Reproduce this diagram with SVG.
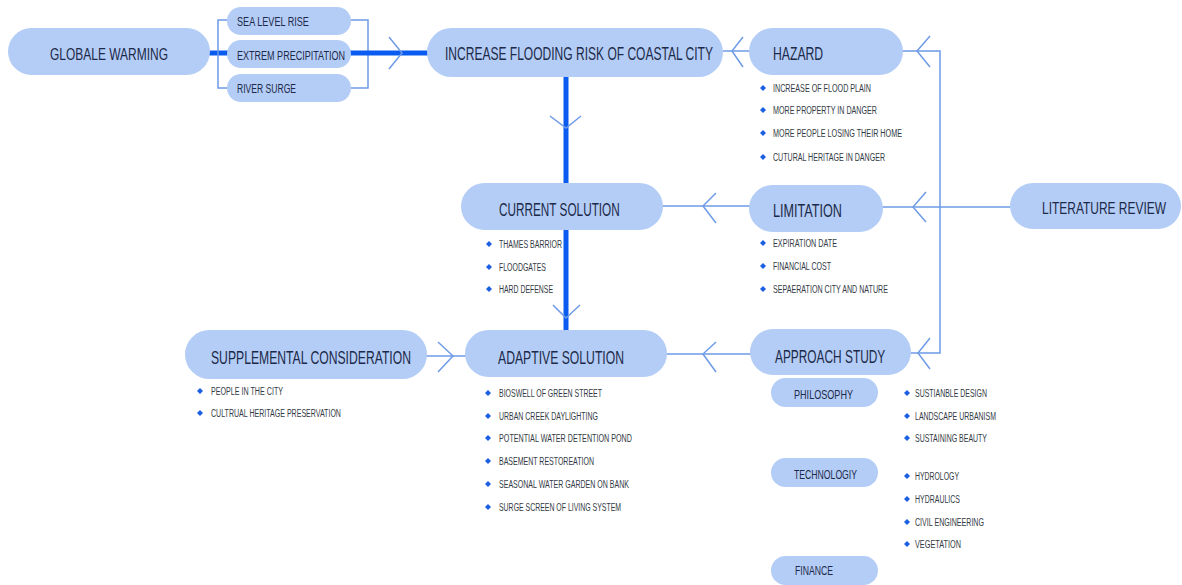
<svg xmlns="http://www.w3.org/2000/svg" width="1182" height="585" viewBox="0 0 1182 585">
<style>
.pill{fill:#b4cdf7}
.h{font-family:"Liberation Sans",Arial,sans-serif;fill:#1c2a48}
.h1{font-size:18px}
.h2{font-size:16px}
.h3{font-size:13.5px}
.b{font-family:"Liberation Sans",Arial,sans-serif;font-size:11px;fill:#333a44}
.thick{stroke:#0a5cf0;stroke-width:5;fill:none}
.thin{stroke:#6e9be6;stroke-width:1.5;fill:none}
.dot{fill:#1b5fe3}
</style>
<defs>
<path id="d" class="dot" d="M0,-3 L3,0 L0,3 L-3,0 Z"/>
</defs>
<rect width="1182" height="585" fill="#ffffff"/>
<g id="connectors">
<line class="thick" x1="208" y1="53" x2="228" y2="53"/>
<polyline class="thin" points="228,20 218,20 218,88 228,88"/>
<polyline class="thin" points="351,20 368,20 368,88 351,88"/>
<line class="thick" x1="349" y1="53" x2="428" y2="53"/>
<polyline class="thin" points="389,37 402,53 389,69"/>
<line class="thin" x1="723" y1="51" x2="750" y2="51"/>
<polyline class="thin" points="743,37 732,51 743,67"/>
<polyline class="thin" points="902,51 940,51 940,353 910,353"/>
<polyline class="thin" points="930,36 917,51 930,67"/>
<polyline class="thin" points="930,338 918,353 930,369"/>
<line class="thin" x1="882" y1="207" x2="1012" y2="207"/>
<polyline class="thin" points="926,192 913,207 926,222"/>
<line class="thin" x1="662" y1="206" x2="750" y2="206"/>
<polyline class="thin" points="716,193 703,206 716,223"/>
<line class="thin" x1="666" y1="354" x2="751" y2="354"/>
<polyline class="thin" points="716,342 703,354 716,372"/>
<line class="thin" x1="426" y1="356" x2="466" y2="356"/>
<polyline class="thin" points="438,342 453,356 438,372"/>
<line class="thick" x1="566" y1="75" x2="566" y2="332"/>
<polyline class="thin" points="550,116 566,128 581,116"/>
<polyline class="thin" points="553,305 566,318 580,305"/>
</g>
<g id="globale-warming">
<rect class="pill" x="8" y="28" width="202" height="47" rx="23.5"/>
<text class="h h2" transform="translate(50,60) scale(0.74,1)" textLength="159.5" lengthAdjust="spacingAndGlyphs">GLOBALE WARMING</text>
</g>
<g id="sea-level-rise">
<rect class="pill" x="227" y="7" width="124" height="28" rx="14"/>
<text class="h h3" transform="translate(237,26) scale(0.66,1)" textLength="109" lengthAdjust="spacingAndGlyphs">SEA LEVEL RISE</text>
</g>
<g id="extrem-precipitation">
<rect class="pill" x="227" y="40" width="124" height="28" rx="14"/>
<text class="h h3" transform="translate(237,60) scale(0.66,1)" textLength="163.6" lengthAdjust="spacingAndGlyphs">EXTREM PRECIPITATION</text>
</g>
<g id="river-surge">
<rect class="pill" x="227" y="74" width="124" height="28" rx="14"/>
<text class="h h3" transform="translate(237,93) scale(0.66,1)" textLength="89.4" lengthAdjust="spacingAndGlyphs">RIVER SURGE</text>
</g>
<g id="increase-flooding">
<rect class="pill" x="427" y="28" width="296" height="49" rx="24.5"/>
<text class="h h1" transform="translate(445,60) scale(0.66,1)" textLength="406" lengthAdjust="spacingAndGlyphs">INCREASE FLOODING RISK OF COASTAL CITY</text>
</g>
<g id="hazard">
<rect class="pill" x="749" y="28" width="154" height="47" rx="23.5"/>
<text class="h h1" transform="translate(773,60) scale(0.66,1)" textLength="76" lengthAdjust="spacingAndGlyphs">HAZARD</text>
<use href="#d" x="763" y="88"/><text class="b" transform="translate(773,92) scale(0.63,1)" textLength="155.6" lengthAdjust="spacingAndGlyphs">INCREASE OF FLOOD PLAIN</text>
<use href="#d" x="763" y="110"/><text class="b" transform="translate(773,114) scale(0.63,1)" textLength="165" lengthAdjust="spacingAndGlyphs">MORE PROPERTY IN DANGER</text>
<use href="#d" x="763" y="133"/><text class="b" transform="translate(773,137) scale(0.63,1)" textLength="204.8" lengthAdjust="spacingAndGlyphs">MORE PEOPLE LOSING THEIR HOME</text>
<use href="#d" x="763" y="157"/><text class="b" transform="translate(773,161) scale(0.63,1)" textLength="177.8" lengthAdjust="spacingAndGlyphs">CUTURAL HERITAGE IN DANGER</text>
</g>
<g id="current-solution">
<rect class="pill" x="461" y="183" width="202" height="47" rx="23.5"/>
<text class="h h1" transform="translate(499,216) scale(0.66,1)" textLength="183" lengthAdjust="spacingAndGlyphs">CURRENT SOLUTION</text>
<use href="#d" x="489" y="244"/><text class="b" transform="translate(499,248) scale(0.63,1)" textLength="100" lengthAdjust="spacingAndGlyphs">THAMES BARRIOR</text>
<use href="#d" x="489" y="267"/><text class="b" transform="translate(499,271) scale(0.63,1)" textLength="74.6" lengthAdjust="spacingAndGlyphs">FLOODGATES</text>
<use href="#d" x="489" y="289"/><text class="b" transform="translate(499,293) scale(0.63,1)" textLength="85.7" lengthAdjust="spacingAndGlyphs">HARD DEFENSE</text>
</g>
<g id="limitation">
<rect class="pill" x="749" y="185" width="134" height="47" rx="23.5"/>
<text class="h h1" transform="translate(773,217) scale(0.66,1)" textLength="104.5" lengthAdjust="spacingAndGlyphs">LIMITATION</text>
<use href="#d" x="763" y="243"/><text class="b" transform="translate(773,247) scale(0.63,1)" textLength="101.6" lengthAdjust="spacingAndGlyphs">EXPIRATION DATE</text>
<use href="#d" x="763" y="266"/><text class="b" transform="translate(773,270) scale(0.63,1)" textLength="92" lengthAdjust="spacingAndGlyphs">FINANCIAL COST</text>
<use href="#d" x="763" y="289"/><text class="b" transform="translate(773,293) scale(0.63,1)" textLength="182.5" lengthAdjust="spacingAndGlyphs">SEPAERATION CITY AND NATURE</text>
</g>
<g id="literature-review">
<rect class="pill" x="1010" y="183" width="171" height="46" rx="23"/>
<text class="h h2" transform="translate(1042,214) scale(0.74,1)" textLength="167.6" lengthAdjust="spacingAndGlyphs">LITERATURE REVIEW</text>
</g>
<g id="supplemental-consideration">
<rect class="pill" x="185" y="330" width="242" height="49" rx="24.5"/>
<text class="h h1" transform="translate(211,364) scale(0.66,1)" textLength="303" lengthAdjust="spacingAndGlyphs">SUPPLEMENTAL CONSIDERATION</text>
<use href="#d" x="200" y="391"/><text class="b" transform="translate(211,395) scale(0.63,1)" textLength="114.3" lengthAdjust="spacingAndGlyphs">PEOPLE IN THE CITY</text>
<use href="#d" x="200" y="413"/><text class="b" transform="translate(211,417) scale(0.63,1)" textLength="206.3" lengthAdjust="spacingAndGlyphs">CULTRUAL HERITAGE PRESERVATION</text>
</g>
<g id="adaptive-solution">
<rect class="pill" x="465" y="330" width="202" height="47" rx="23.5"/>
<text class="h h1" transform="translate(498,364) scale(0.66,1)" textLength="191" lengthAdjust="spacingAndGlyphs">ADAPTIVE SOLUTION</text>
<use href="#d" x="488" y="393"/><text class="b" transform="translate(499,397) scale(0.63,1)" textLength="163.5" lengthAdjust="spacingAndGlyphs">BIOSWELL OF GREEN STREET</text>
<use href="#d" x="488" y="416"/><text class="b" transform="translate(499,420) scale(0.63,1)" textLength="157.1" lengthAdjust="spacingAndGlyphs">URBAN CREEK DAYLIGHTING</text>
<use href="#d" x="488" y="438"/><text class="b" transform="translate(499,442) scale(0.63,1)" textLength="211.1" lengthAdjust="spacingAndGlyphs">POTENTIAL WATER DETENTION POND</text>
<use href="#d" x="488" y="461"/><text class="b" transform="translate(499,465) scale(0.63,1)" textLength="150.8" lengthAdjust="spacingAndGlyphs">BASEMENT RESTOREATION</text>
<use href="#d" x="488" y="484"/><text class="b" transform="translate(499,488) scale(0.63,1)" textLength="206.3" lengthAdjust="spacingAndGlyphs">SEASONAL WATER GARDEN ON BANK</text>
<use href="#d" x="488" y="507"/><text class="b" transform="translate(499,511) scale(0.63,1)" textLength="193.7" lengthAdjust="spacingAndGlyphs">SURGE SCREEN OF LIVING SYSTEM</text>
</g>
<g id="approach-study">
<rect class="pill" x="750" y="329" width="161" height="46" rx="23"/>
<text class="h h1" transform="translate(775,363) scale(0.66,1)" textLength="167" lengthAdjust="spacingAndGlyphs">APPROACH STUDY</text>
</g>
<g id="philosophy">
<rect class="pill" x="771" y="378" width="107" height="29" rx="14.5"/>
<text class="h h3" transform="translate(794,399) scale(0.66,1)" textLength="89.4" lengthAdjust="spacingAndGlyphs">PHILOSOPHY</text>
<use href="#d" x="907" y="393"/><text class="b" transform="translate(915,397) scale(0.63,1)" textLength="114.3" lengthAdjust="spacingAndGlyphs">SUSTIANBLE DESIGN</text>
<use href="#d" x="907" y="416"/><text class="b" transform="translate(915,420) scale(0.63,1)" textLength="128.6" lengthAdjust="spacingAndGlyphs">LANDSCAPE URBANISM</text>
<use href="#d" x="907" y="438"/><text class="b" transform="translate(915,442) scale(0.63,1)" textLength="114.3" lengthAdjust="spacingAndGlyphs">SUSTAINING BEAUTY</text>
</g>
<g id="technology">
<rect class="pill" x="771" y="458" width="107" height="29" rx="14.5"/>
<text class="h h3" transform="translate(794,479) scale(0.66,1)" textLength="95.5" lengthAdjust="spacingAndGlyphs">TECHNOLOGIY</text>
<use href="#d" x="907" y="476"/><text class="b" transform="translate(915,480) scale(0.63,1)" textLength="69.8" lengthAdjust="spacingAndGlyphs">HYDROLOGY</text>
<use href="#d" x="907" y="499"/><text class="b" transform="translate(915,503) scale(0.63,1)" textLength="71.4" lengthAdjust="spacingAndGlyphs">HYDRAULICS</text>
<use href="#d" x="907" y="522"/><text class="b" transform="translate(915,526) scale(0.63,1)" textLength="109.5" lengthAdjust="spacingAndGlyphs">CIVIL ENGINEERING</text>
<use href="#d" x="907" y="544"/><text class="b" transform="translate(915,548) scale(0.63,1)" textLength="73" lengthAdjust="spacingAndGlyphs">VEGETATION</text>
</g>
<g id="finance">
<rect class="pill" x="771" y="556" width="107" height="29" rx="14.5"/>
<text class="h h3" transform="translate(795,575) scale(0.66,1)" textLength="57.6" lengthAdjust="spacingAndGlyphs">FINANCE</text>
</g>
</svg>
